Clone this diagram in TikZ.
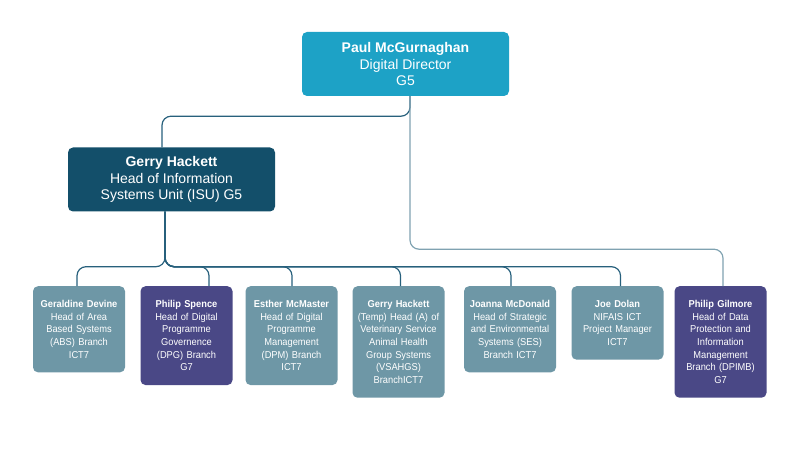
\documentclass[tikz,border=0pt]{standalone}
\usepackage{fontspec}
\setmainfont{Liberation Sans}
\newfontfamily\narrowfont[FakeStretch=0.93]{Liberation Sans}

\definecolor{directorblue}{HTML}{1DA2C6}
\definecolor{isublue}{HTML}{134F6A}
\definecolor{staffgrey}{HTML}{6E97A6}
\definecolor{staffpurple}{HTML}{4A4886}
\definecolor{linkdark}{HTML}{27607C}
\definecolor{linklight}{HTML}{7FA2B1}

\begin{document}
\begin{tikzpicture}[x=1pt,y=-1pt,
  box/.style={rounded corners=5pt, text=white, align=center, inner xsep=0pt},
  headbox/.style={box, minimum width=207pt, minimum height=64pt, inner ysep=0pt,
    font=\fontsize{14}{16.7}\selectfont},
  staffbox/.style={box, anchor=north, text width=92pt, inner ysep=14pt,
    font=\narrowfont\fontsize{10}{12.7}\selectfont},
  link/.style={line width=1.2pt, rounded corners=9pt}]
  \useasboundingbox (0,0) rectangle (800,462);

  % heads
  \node[headbox, fill=directorblue] (director) at (405.5,64)
    {\textbf{Paul McGurnaghan}\\Digital Director\\G5};
  \node[headbox, fill=isublue] (isu) at (171.5,179.5)
    {\textbf{Gerry Hackett}\\Head of Information\\Systems Unit (ISU) G5};

  % branches
  \node[staffbox, fill=staffgrey] (geraldine) at (79,286)
    {\textbf{Geraldine Devine}\\Head of Area\\Based Systems\\(ABS) Branch\\ICT7};
  \node[staffbox, fill=staffpurple] (spence) at (186.5,286)
    {\textbf{Philip Spence}\\Head of Digital\\Programme\\Governence\\(DPG) Branch\\G7};
  \node[staffbox, fill=staffgrey] (esther) at (291.5,286)
    {\textbf{Esther McMaster}\\Head of Digital\\Programme\\Management\\(DPM) Branch\\ICT7};
  \node[staffbox, fill=staffgrey] (gerryvs) at (398.5,286)
    {\textbf{Gerry Hackett}\\(Temp) Head (A) of\\Veterinary Service\\Animal Health\\Group Systems\\(VSAHGS)\\BranchICT7};
  \node[staffbox, fill=staffgrey] (joanna) at (510,286)
    {\textbf{Joanna McDonald}\\Head of Strategic\\and Environmental\\Systems (SES)\\Branch ICT7};
  \node[staffbox, fill=staffgrey] (joe) at (617.5,286)
    {\textbf{Joe Dolan}\\NIFAIS ICT\\Project Manager\\ICT7};
  \node[staffbox, fill=staffpurple] (gilmore) at (720.5,286)
    {\textbf{Philip Gilmore}\\Head of Data\\Protection and\\Information\\Management\\Branch (DPIMB)\\G7};

  % connectors
  \draw[link, draw=linkdark] ([xshift=4.5pt]director.south) -- ++(0,20) -| ([xshift=-9.5pt]isu.north);
  \draw[link, draw=linklight] ([xshift=4.5pt]director.south) -- ++(0,153) -| ([xshift=2.5pt]gilmore.north);
  \foreach \c/\s in {geraldine/-2, spence/22.5, esther/0.5, gerryvs/2, joanna/1, joe/3}
    \draw[link, draw=linkdark] ([xshift=-6.5pt]isu.south) -- ++(0,55) -| ([xshift=\s pt]\c.north);
\end{tikzpicture}
\end{document}
